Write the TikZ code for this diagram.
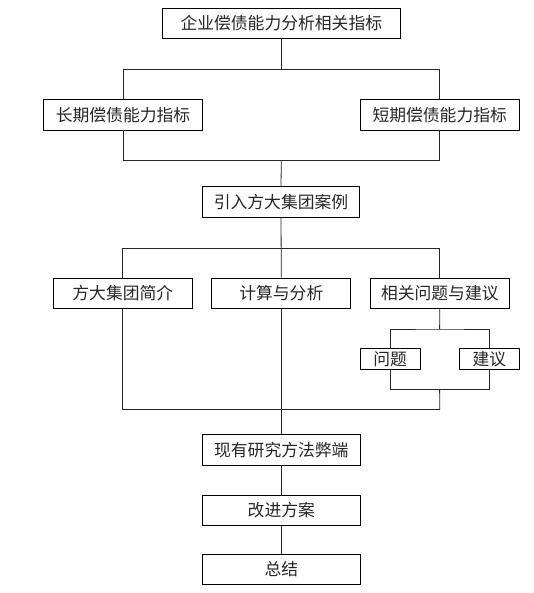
\documentclass[tikz,border=0pt]{standalone}
\usepackage{fontspec}
\setmainfont{Noto Sans CJK SC}
\begin{document}
\begin{tikzpicture}[x=1pt,y=-1pt,
  box/.style={draw=black,line width=0.8pt,fill=white,inner sep=0pt,minimum height=30.5pt,font=\fontsize{16.8}{19}\selectfont,text=black!85},
  sbox/.style={box,minimum height=21pt},
  conn/.style={draw=black!85,line width=0.8pt}]
\useasboundingbox (0,0) rectangle (534,593);
\fill[white] (0,0) rectangle (534,593);
% nodes
\node[box,minimum width=237.7pt] (top) at (281.3,23.4) {企业偿债能力分析相关指标};
\node[box,minimum width=158.7pt] (long) at (123,114.8) {长期偿债能力指标};
\node[box,minimum width=158.7pt] (short) at (439.7,114.8) {短期偿债能力指标};
\node[box,minimum width=157.5pt] (case) at (281,202) {引入方大集团案例};
\node[box,minimum width=138.6pt] (intro) at (122.8,293.2) {方大集团简介};
\node[box,minimum width=139pt] (calc) at (281.3,293.2) {计算与分析};
\node[box,minimum width=139.3pt] (prob) at (439.8,293.2) {相关问题与建议};
\node[sbox,minimum width=59.6pt] (q) at (390.2,359.2) {问题};
\node[sbox,minimum width=59.6pt] (s) at (489.3,359.2) {建议};
\node[box,minimum width=158.4pt] (flaw) at (281.3,449.7) {现有研究方法弊端};
\node[box,minimum width=158.4pt] (impr) at (281.3,510.4) {改进方案};
\node[box,minimum width=158.4pt] (sum) at (281.3,569.3) {总结};
% junction coordinates
\coordinate (j1) at (281.3,69.1);
\coordinate (j2) at (281.3,160.1);
\coordinate (j3) at (281.3,247.9);
\coordinate (j4) at (439.6,329);
\coordinate (j5) at (439.6,389.3);
\coordinate (j6) at (281.3,409.7);
% connectors
\draw[conn] (top.south) -- (j1);
\draw[conn] (long.north) |- (j1) -| (short.north);
\draw[conn] (long.south) |- (j2) -| (short.south);
\draw[conn] (j2) -- (case.north);
\draw[conn] (case.south) -- (calc.north);
\draw[conn] (intro.north) |- (j3) -| (prob.north);
\draw[conn] (prob.south) -- (j4);
\draw[conn] (q.north) |- (j4) -| (s.north);
\draw[conn] (q.south) |- (j5) -| (s.south);
\draw[conn] (j5) -- (prob.south |- j6);
\draw[conn] (intro.south) |- (j6) -| (prob.south |- j6);
\draw[conn] (calc.south) -- (flaw.north);
\draw[conn] (flaw.south) -- (impr.north);
\draw[conn] (impr.south) -- (sum.north);
\end{tikzpicture}
\end{document}
